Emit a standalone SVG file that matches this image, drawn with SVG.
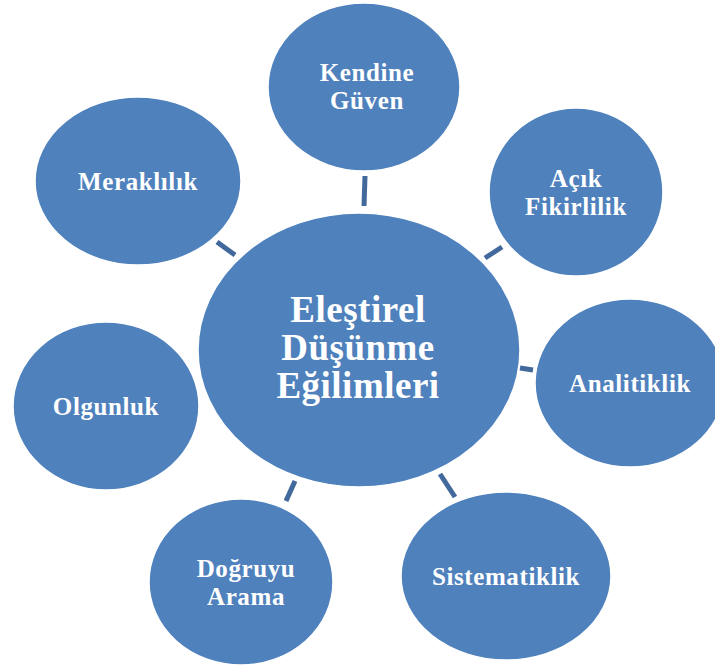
<svg xmlns="http://www.w3.org/2000/svg" width="715" height="672" viewBox="0 0 715 672">
<style>
.node{fill:#4f81bd;stroke:#ffffff;stroke-width:1.5}
.lbl{font-family:"Liberation Serif","Times New Roman",serif;font-weight:bold;font-size:25px;letter-spacing:0.6px;fill:#ffffff;text-anchor:middle}
.big{font-size:37px;letter-spacing:0.5px}
.conn line{stroke:#41699b;stroke-width:5}
</style>
<rect width="715" height="672" fill="#ffffff"/>
<g id="connectors" class="conn">
<line x1="365" y1="176" x2="364" y2="206"/>
<line x1="485" y1="258" x2="502" y2="247"/>
<line x1="520" y1="368" x2="533" y2="370"/>
<line x1="440" y1="474" x2="455" y2="497"/>
<line x1="295" y1="481" x2="286" y2="501"/>
<line x1="217" y1="242" x2="235" y2="255"/>
</g>
<g id="center">
<ellipse class="node" cx="359" cy="350" rx="161" ry="137"/>
<text class="lbl big" x="358" y="322">Eleştirel</text>
<text class="lbl big" x="358" y="360">Düşünme</text>
<text class="lbl big" x="358" y="398">Eğilimleri</text>
</g>
<g id="kendine-guven">
<ellipse class="node" cx="364" cy="87" rx="96" ry="84"/>
<text class="lbl" x="367" y="81">Kendine</text>
<text class="lbl" x="367" y="109">Güven</text>
</g>
<g id="acik-fikirlilik">
<ellipse class="node" cx="576" cy="192" rx="87" ry="84"/>
<text class="lbl" x="576" y="187">Açık</text>
<text class="lbl" x="576" y="215">Fikirlilik</text>
</g>
<g id="analitiklik">
<ellipse class="node" cx="630" cy="383" rx="95" ry="84"/>
<text class="lbl" x="630" y="392">Analitiklik</text>
</g>
<g id="sistematiklik">
<ellipse class="node" cx="506" cy="576" rx="105" ry="84"/>
<text class="lbl" x="506" y="585">Sistematiklik</text>
</g>
<g id="dogruyu-arama">
<ellipse class="node" cx="241" cy="582" rx="92" ry="83"/>
<text class="lbl" x="246" y="577">Doğruyu</text>
<text class="lbl" x="246" y="605">Arama</text>
</g>
<g id="olgunluk">
<ellipse class="node" cx="106" cy="406" rx="93" ry="84"/>
<text class="lbl" x="106" y="415">Olgunluk</text>
</g>
<g id="meraklilik">
<ellipse class="node" cx="138" cy="181" rx="103" ry="84"/>
<text class="lbl" x="138" y="190">Meraklılık</text>
</g>
</svg>
